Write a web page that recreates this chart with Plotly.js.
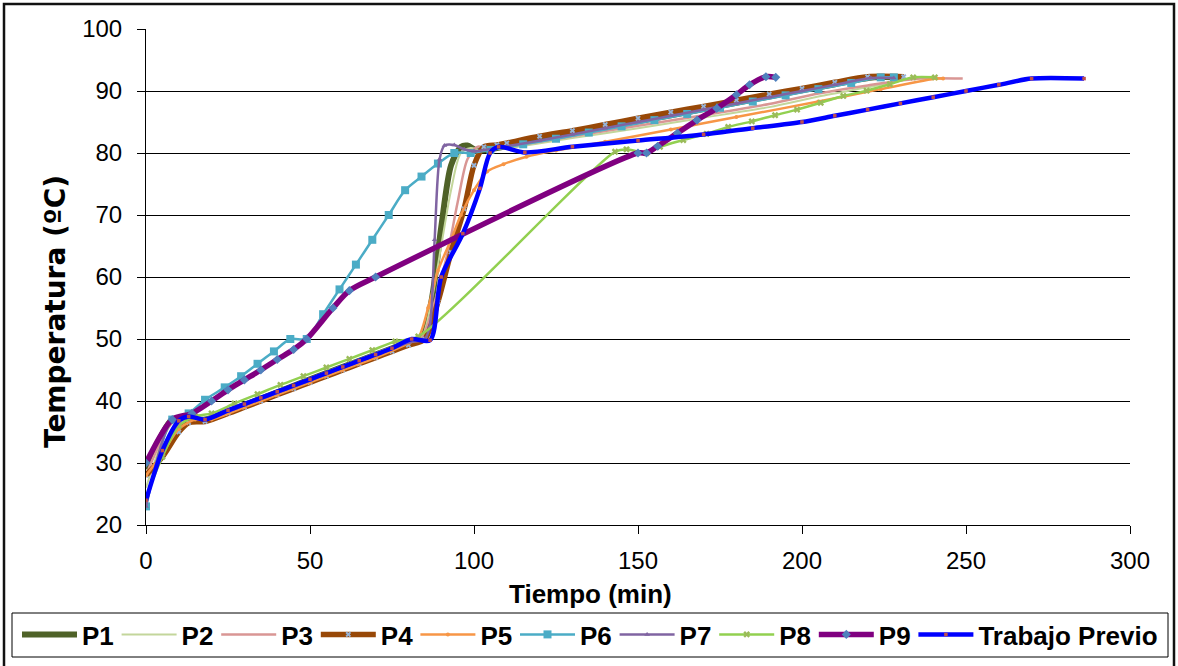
<!DOCTYPE html>
<html>
<head>
<meta charset="utf-8">
<script src="https://cdn.plot.ly/plotly-3.0.1.min.js"></script>
<style>html,body{margin:0;padding:0;background:#fff;}</style>
</head>
<body>
<div id="chart" style="width:1178px;height:666px;"></div>
<script>
// ---- data ----
const xTicks = [0, 50, 100, 150, 200, 250, 300];
const yTicks = [20, 30, 40, 50, 60, 70, 80, 90, 100];
const xTitle = 'Tiempo (min)';
const yTitle = 'Temperatura (ºC)';

const p1_t = [0, 8, 13, 18, 30, 40, 50, 60, 70, 80, 84, 87, 90, 93, 96, 98, 101, 110, 130, 150, 170, 190, 210, 222, 230];
const p1_T = [29, 37, 37.3, 37, 39.4, 41.4, 43.5, 45.5, 47.5, 49.5, 50.3, 56, 68, 78, 81, 81.2, 80.4, 81.1, 83.1, 85.1, 87.1, 89.1, 91.1, 92.2, 92.2];

const p2_t = [0, 8, 13, 18, 30, 40, 50, 60, 70, 80, 84, 87, 90, 93, 96, 99, 102, 110, 130, 150, 170, 190, 205, 220, 234, 240];
const p2_T = [26, 36.5, 37.3, 37.2, 39.6, 41.6, 43.7, 45.7, 47.7, 49.7, 50.3, 56, 65, 74, 80, 80.8, 80.5, 80.8, 82.4, 84, 85.7, 87.4, 89.1, 90.6, 92, 92];

const p3_t = [0, 8, 13, 18, 30, 40, 50, 60, 70, 80, 84, 88, 92, 95, 98, 101, 104, 110, 130, 150, 170, 190, 205, 220, 236, 249];
const p3_T = [28, 36.5, 37.2, 37, 39.4, 41.4, 43.5, 45.5, 47.5, 49.5, 50.2, 56, 64, 72, 79, 81, 80.8, 81, 82.7, 84.4, 86.1, 87.9, 89.6, 90.9, 92, 92];

const p4_t = [0, 5, 10, 13, 18, 25, 30, 35, 40, 45, 50, 55, 60, 65, 70, 75, 80, 85, 89, 93, 97, 100, 103, 107, 110, 120, 130, 140, 150, 160, 170, 180, 190, 200, 210, 220, 231];
const p4_T = [28, 31, 35, 36.5, 36.7, 38, 39, 40, 41, 42, 43, 44, 45, 46, 47, 48, 49, 50, 56, 64, 71, 78, 81, 81.3, 81.6, 82.7, 83.6, 84.6, 85.6, 86.6, 87.5, 88.5, 89.5, 90.4, 91.4, 92.3, 92.3];

const p5_t = [0, 5, 10, 15, 20, 30, 40, 50, 60, 70, 80, 83, 86, 89, 93, 96, 100, 104, 109, 116, 125, 140, 160, 180, 205, 224, 241, 243];
const p5_T = [28, 31.5, 35.5, 37, 37, 39, 41, 43, 45, 47, 49.3, 50.2, 55, 61, 66, 70, 74, 77, 78.2, 79.4, 80.4, 81.8, 83.8, 85.8, 88.3, 90.3, 92, 92];

const p6_t = [0, 8, 13, 18, 24, 29, 34, 39, 44, 49, 54, 59, 64, 69, 74, 79, 84, 89, 94, 99, 105, 115, 125, 135, 145, 155, 165, 175, 185, 195, 205, 215, 224, 228];
const p6_T = [23, 37, 38, 40.2, 42.2, 44, 46, 48, 50, 50, 54, 58, 62, 66, 70, 74, 76.2, 78.3, 80, 80, 80.5, 81.4, 82.3, 83.3, 84.3, 85.3, 86.3, 87.3, 88.3, 89.3, 90.3, 91.3, 92.2, 92.2];

const p7_t = [0, 8, 13, 18, 25, 30, 40, 50, 60, 70, 80, 85, 86.5, 88, 89.5, 91, 94, 97, 100, 110, 120, 130, 140, 150, 160, 170, 180, 190, 200, 210, 221, 228];
const p7_T = [23, 37, 37.5, 37, 38.3, 39.3, 41.3, 43.3, 45.4, 47.4, 49.4, 50, 52, 66, 79, 81.2, 81.3, 80.6, 80.3, 81.1, 82, 83, 84, 85, 86, 87, 88, 89, 90, 91, 92.1, 92.1];

const p8_t = [0, 5, 10, 15, 20, 27, 34, 41, 48, 55, 62, 69, 76, 83, 143, 146.5, 152.6, 156.7, 163.8, 170.9, 177.5, 184.7, 191.8, 198.5, 205.7, 212.6, 219.7, 226.8, 233.9, 240.5];
const p8_T = [24.5, 31, 36, 37.5, 38, 39.6, 41.1, 42.6, 44, 45.4, 46.8, 48.2, 49.6, 50.4, 80.2, 80.6, 80, 81, 82.1, 83.1, 84.2, 85.1, 86.1, 87, 88.1, 89.2, 90.05, 91.1, 92.2, 92.2];

const p9_t = [0, 8, 14, 20, 25, 30, 35, 40, 45, 49, 57, 62, 70, 150, 152.6, 156, 162, 168, 174, 180, 184, 189, 192];
const p9_T = [30, 37, 38, 40, 41.8, 43.4, 45, 46.7, 48.3, 50, 55, 57.8, 60, 80, 80, 81.1, 83.2, 85.3, 87.2, 89.4, 91, 92.3, 92.2];

const tp_t = [0, 5, 10, 13, 18, 25, 30, 35, 40, 45, 50, 55, 60, 65, 70, 75, 81, 86.6, 90, 96.6, 101.8, 104.9, 107.5, 115.5, 130, 150, 170, 185, 200, 210, 220, 230, 240, 250, 260, 270, 286];
const tp_T = [24, 32, 36.8, 37.5, 37, 38.5, 39.5, 40.5, 41.5, 42.5, 43.5, 44.5, 45.5, 46.5, 47.5, 48.5, 50, 49.8, 60, 67, 74.3, 80, 81, 80.1, 81, 82, 83, 84, 85, 86, 87, 88, 89, 90, 91, 92, 92];

// ---- geometry helpers (plot area: x 146..1130 px, y 29..525 px) ----
const PL = 146, PW = 984, PB = 525, PH = 496;
const px = v => (v - PL) / PW;
const py = v => (PB - v) / PH;

function trace(name, t, T, color, width, marker) {
  const o = {
    type: 'scatter', name: name, x: t, y: T,
    mode: marker ? 'lines+markers' : 'lines',
    line: {color: color, width: width, shape: 'spline', smoothing: 0.8},
    hoverinfo: 'x+y+name'
  };
  if (marker) o.marker = marker;
  return o;
}

const data = [
  trace('P1', p1_t, p1_T, '#4F6228', 6),
  trace('P2', p2_t, p2_T, '#C3D69B', 2),
  trace('P3', p3_t, p3_T, '#D99694', 2.5),
  trace('P4', p4_t, p4_T, '#984807', 5.5, {symbol: 'x', size: 5, color: '#95B3D7'}),
  trace('P5', p5_t, p5_T, '#F79646', 2.5, {symbol: 'circle', size: 4, color: '#F79646'}),
  trace('P6', p6_t, p6_T, '#4BACC6', 2.5, {symbol: 'square', size: 8, color: '#4BACC6'}),
  trace('P7', p7_t, p7_T, '#8064A2', 2.5, {symbol: 'triangle-up', size: 5, color: '#8064A2'}),
  trace('P8', p8_t, p8_T, '#92D050', 2.5, {symbol: 'x', size: 6, color: '#9BBB59'}),
  trace('P9', p9_t, p9_T, '#800080', 5.5, {symbol: 'diamond', size: 7, color: '#4F81BD'}),
  trace('Trabajo Previo', tp_t, tp_T, '#0000FF', 4.5, {symbol: 'square', size: 3.5, color: '#C0504D'})
];
data[9].legend = 'legend2';

const FONT = 'Liberation Sans, Arial, sans-serif';
const legendFont = {size: 26, family: FONT, weight: 'bold', color: '#000'};
const LEG_X = 17, LEG_STEP = 99.6, LEG_Y = 611;

const layout = {
  width: 1178, height: 666,
  margin: {l: 146, r: 48, t: 29, b: 141, autoexpand: false},
  paper_bgcolor: '#ffffff', plot_bgcolor: '#ffffff',
  font: {family: FONT, color: '#000000', size: 24},
  showlegend: true,
  xaxis: {
    range: [0, 300], tickvals: xTicks, ticktext: xTicks.map(String),
    showgrid: false, zeroline: false, showline: true, linecolor: '#000', linewidth: 1,
    ticks: 'outside', ticklen: 8, tickcolor: '#000', tickwidth: 1,
    tickfont: {size: 24, family: FONT}, ticklabelstandoff: 6,
    automargin: false, fixedrange: true
  },
  yaxis: {
    range: [20, 100], tickvals: yTicks, ticktext: yTicks.map(String),
    showgrid: true, gridcolor: '#000', gridwidth: 1, zeroline: false,
    showline: true, linecolor: '#000', linewidth: 1,
    ticks: 'outside', ticklen: 8, tickcolor: '#000', tickwidth: 1,
    tickfont: {size: 24, family: FONT}, ticklabelstandoff: 10,
    automargin: false, fixedrange: true
  },
  legend: {
    orientation: 'h', x: px(LEG_X), xanchor: 'left', y: py(LEG_Y), yanchor: 'top',
    bgcolor: 'rgba(0,0,0,0)', borderwidth: 0, font: legendFont,
    itemwidth: 55, entrywidth: LEG_STEP - 70, tracegroupgap: 0, traceorder: 'normal'
  },
  legend2: {
    orientation: 'h', x: px(LEG_X + 9 * LEG_STEP), xanchor: 'left', y: py(LEG_Y), yanchor: 'top',
    bgcolor: 'rgba(0,0,0,0)', borderwidth: 0, font: legendFont,
    itemwidth: 55
  },
  annotations: [
    {xref: 'paper', yref: 'paper', x: px(590), y: py(594), xanchor: 'center', yanchor: 'middle',
     text: '<b>' + xTitle + '</b>', showarrow: false, font: {size: 26, family: FONT, color: '#000'}},
    {xref: 'paper', yref: 'paper', x: px(55), y: py(312), xanchor: 'center', yanchor: 'middle',
     text: '<b>' + yTitle + '</b>', textangle: -90, showarrow: false,
     font: {size: 28, family: 'DejaVu Sans, Liberation Sans, Arial, sans-serif', color: '#000'}}
  ],
  shapes: [
    {type: 'rect', xref: 'paper', yref: 'paper', x0: px(4), x1: px(1174), y0: py(700), y1: py(4),
     line: {color: '#111', width: 2.5}, fillcolor: 'rgba(0,0,0,0)', layer: 'below'},
    {type: 'rect', xref: 'paper', yref: 'paper', x0: px(12), x1: px(1168), y0: py(657), y1: py(613),
     line: {color: '#000', width: 1}, fillcolor: 'rgba(0,0,0,0)', layer: 'below'}
  ]
};

Plotly.newPlot('chart', data, layout, {displayModeBar: false, staticPlot: true});
</script>
</body>
</html>
